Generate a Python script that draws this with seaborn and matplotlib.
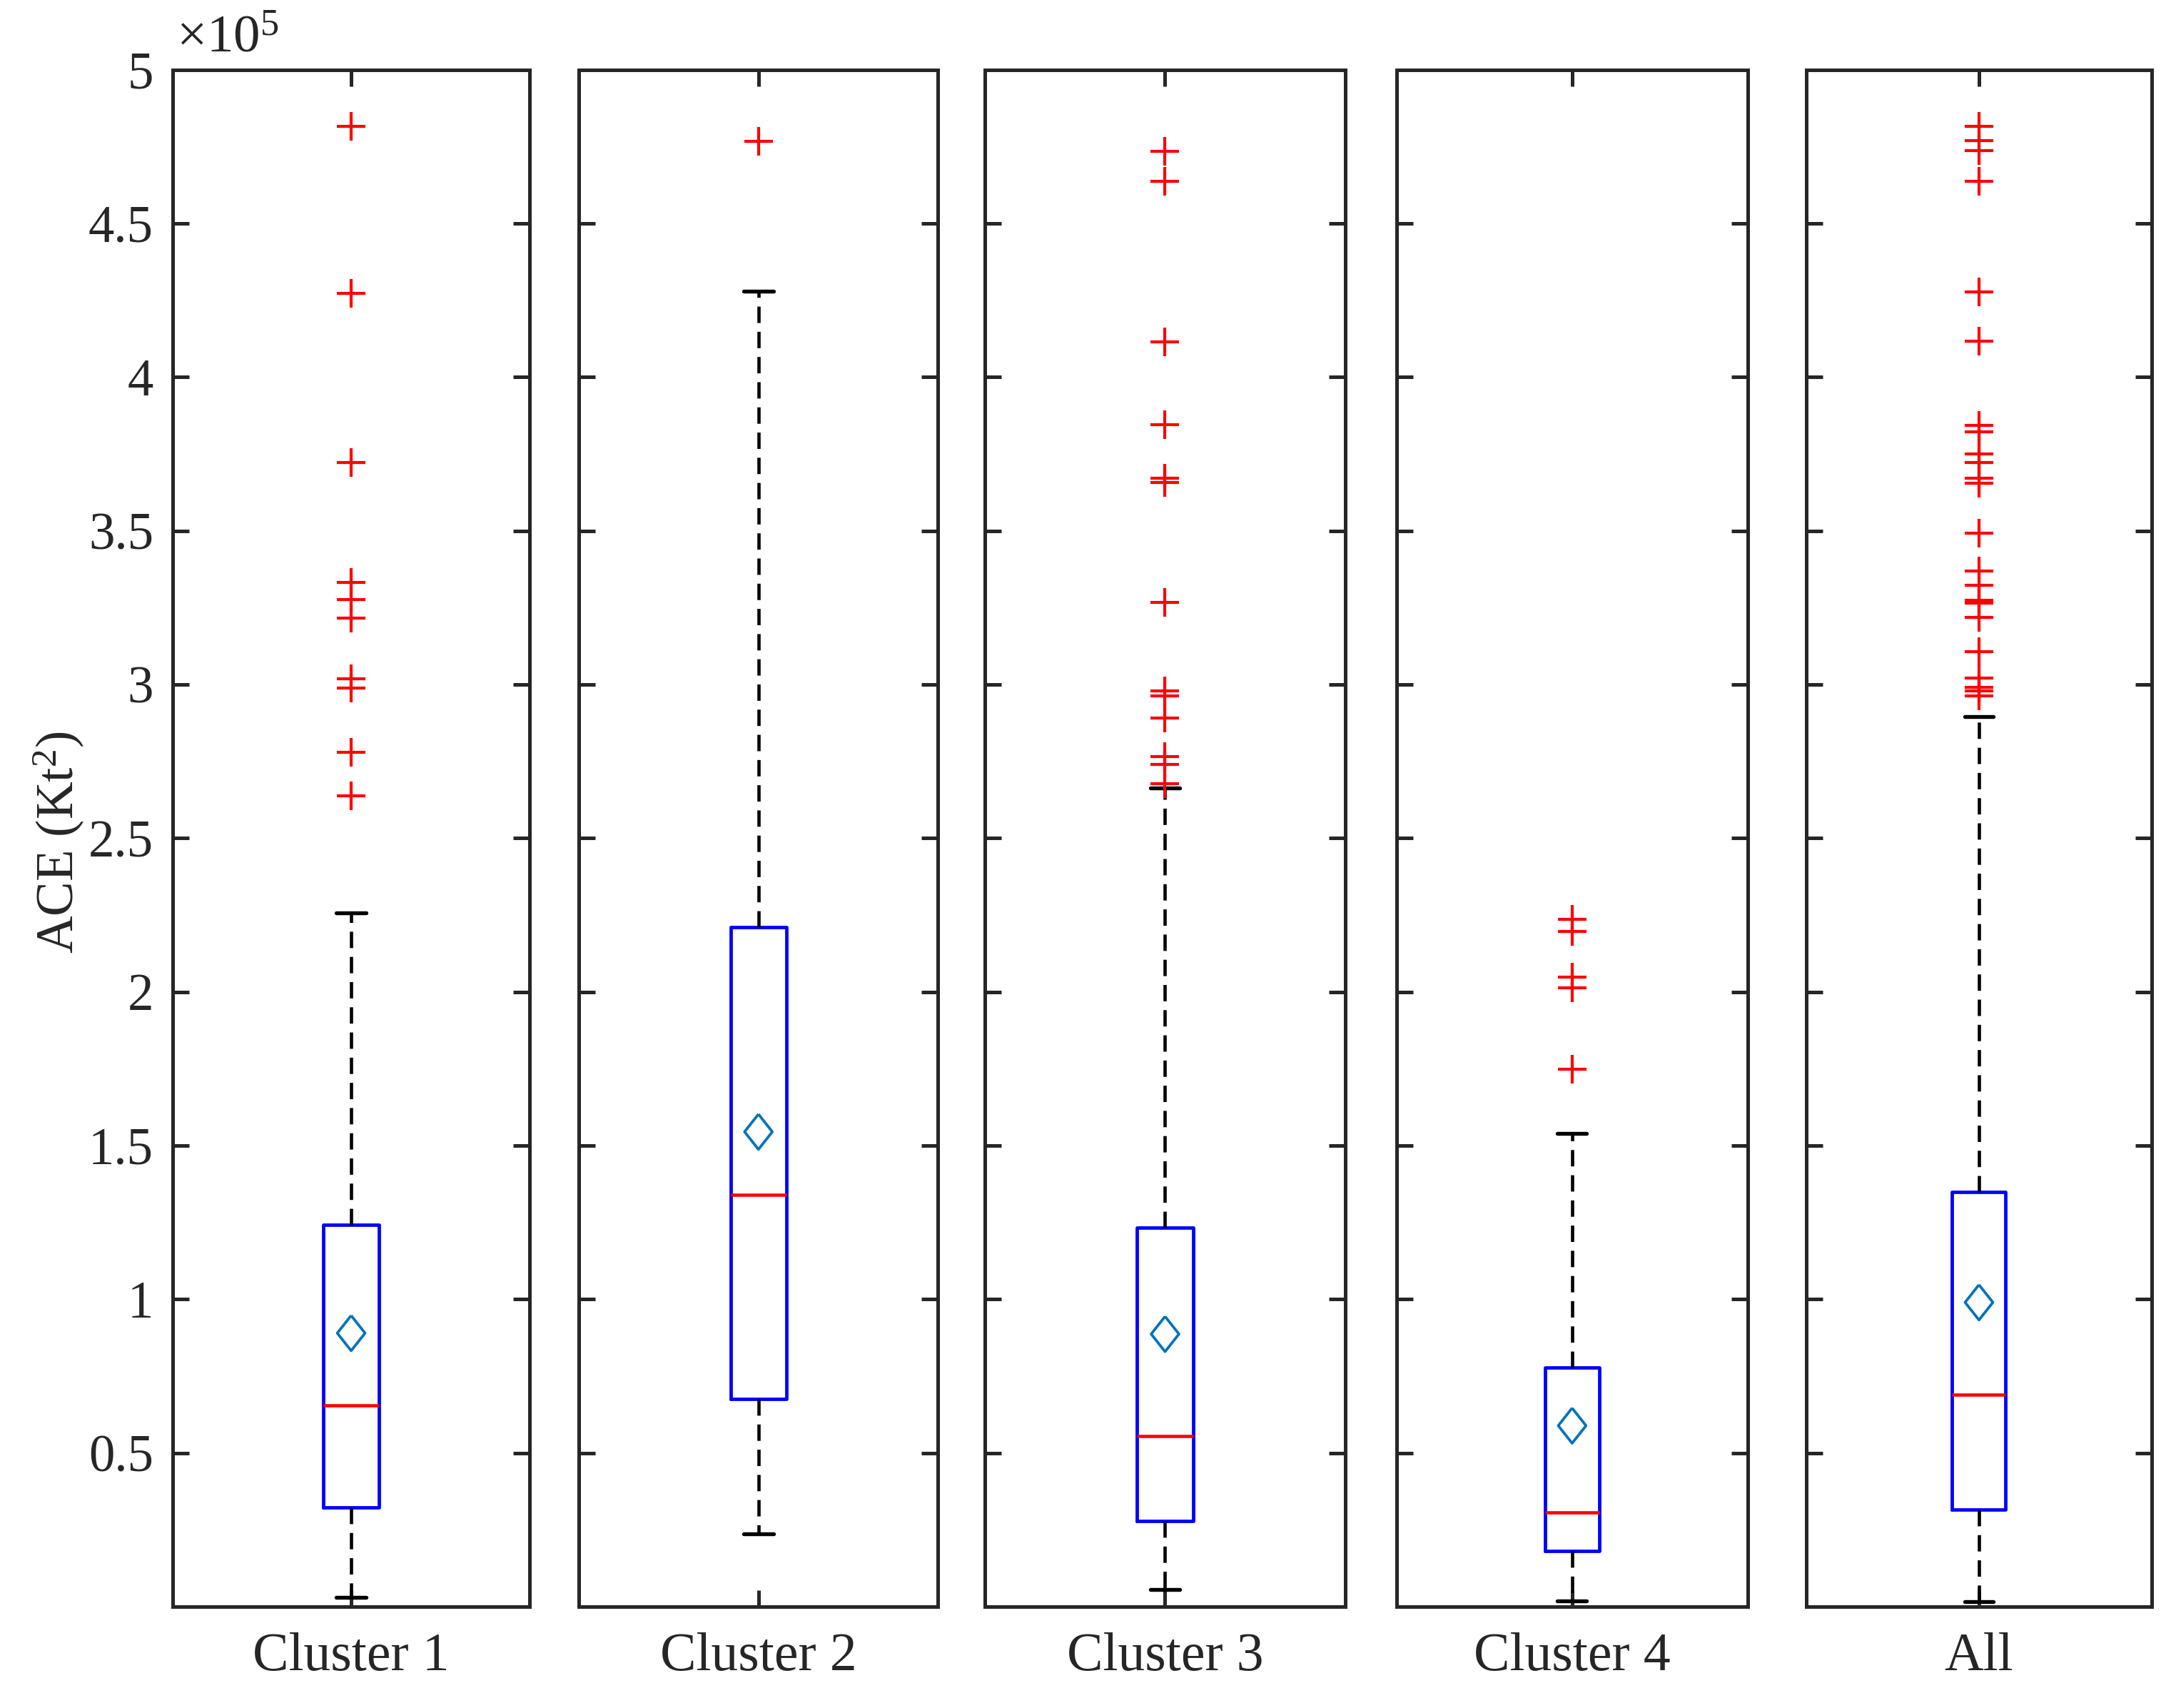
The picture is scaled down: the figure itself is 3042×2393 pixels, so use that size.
import numpy as np
import pandas as pd
import matplotlib
matplotlib.use("Agg")
import matplotlib.pyplot as plt
import seaborn as sns
from matplotlib.ticker import FuncFormatter

# ---------------- data (ACE, Kt^2) ----------------
categories = ["Cluster 1", "Cluster 2", "Cluster 3", "Cluster 4", "All"]
whisker_low = [0.030e5, 0.236e5, 0.056e5, 0.019e5, 0.017e5]
q1 = [0.322e5, 0.675e5, 0.279e5, 0.182e5, 0.315e5]
median = [0.655e5, 1.340e5, 0.554e5, 0.307e5, 0.690e5]
q3 = [1.243e5, 2.210e5, 1.234e5, 0.779e5, 1.350e5]
whisker_high = [2.256e5, 4.280e5, 2.664e5, 1.540e5, 2.896e5]
mean = [0.890e5, 1.545e5, 0.887e5, 0.589e5, 0.990e5]

outliers_c1 = [4.816e5, 4.272e5, 3.723e5, 3.333e5, 3.277e5, 3.215e5, 3.018e5, 2.988e5, 2.779e5, 2.638e5]
outliers_c2 = [4.766e5]
outliers_c3 = [4.735e5, 4.636e5, 4.115e5, 3.845e5, 3.671e5, 3.656e5, 3.267e5, 2.978e5, 2.964e5,
               2.890e5, 2.765e5, 2.740e5, 2.678e5]
outliers_c4 = [2.237e5, 2.197e5, 2.047e5, 2.014e5, 1.749e5]
outliers_all = [4.816e5, 4.769e5, 4.736e5, 4.636e5, 4.277e5, 4.117e5, 3.844e5, 3.822e5, 3.751e5,
                3.722e5, 3.671e5, 3.655e5, 3.492e5, 3.369e5, 3.323e5, 3.275e5, 3.265e5, 3.219e5,
                3.106e5, 3.022e5, 2.990e5, 2.980e5, 2.962e5]
outliers = [outliers_c1, outliers_c2, outliers_c3, outliers_c4, outliers_all]

y_ticks = [0.5e5, 1.0e5, 1.5e5, 2.0e5, 2.5e5, 3.0e5, 3.5e5, 4.0e5, 4.5e5, 5.0e5]

# ---------------- style ----------------
sns.set_style("ticks")
plt.rcParams["font.family"] = ["Liberation Serif", "DejaVu Serif"]
plt.rcParams["mathtext.fontset"] = "custom"
plt.rcParams["mathtext.rm"] = "Liberation Serif"
plt.rcParams["mathtext.it"] = "Liberation Serif:italic"
plt.rcParams["axes.unicode_minus"] = False

AX_COLOR = "#262626"
FS = 17.5
FS_X = 18.2

fig = plt.figure(figsize=(3042 / 300, 2393 / 300), dpi=300)
fig.patch.set_facecolor("white")

# panel horizontal extents (figure fractions)
lefts = [0.0796, 0.2666, 0.4537, 0.6433, 0.8320]
rights = [0.2439, 0.4321, 0.6196, 0.8050, 0.9911]
bottom, top = 0.0593, 0.9592

diamond = [(0, 1), (0.79, 0), (0, -1), (-0.79, 0), (0, 1)]

for i, cat in enumerate(categories):
    ax = fig.add_axes([lefts[i], bottom, rights[i] - lefts[i], top - bottom])
    stats = [dict(med=median[i], q1=q1[i], q3=q3[i], whislo=whisker_low[i],
                  whishi=whisker_high[i], fliers=[], mean=mean[i], label=cat)]
    ax.bxp(stats, positions=[1], widths=0.155, capwidths=0.083,
           showfliers=False, showmeans=False, patch_artist=False,
           boxprops=dict(color="#0000FF", linewidth=1.15),
           medianprops=dict(color="#FF0000", linewidth=1.1),
           whiskerprops=dict(color="black", linewidth=1.1, linestyle=(0, (5.0, 2.7))),
           capprops=dict(color="black", linewidth=1.3))

    df_out = pd.DataFrame({"x": [1.0] * len(outliers[i]), "y": outliers[i]})
    sns.scatterplot(data=df_out, x="x", y="y", marker="+", s=88, color="#FF0000",
                    linewidth=1.0, ax=ax, legend=False, zorder=4)

    df_mean = pd.DataFrame({"x": [1.0], "y": [mean[i]]})
    sns.scatterplot(data=df_mean, x="x", y="y", marker=diamond, s=140,
                    color="#0072BD", facecolor="none", edgecolor="#0072BD",
                    linewidth=0.9, ax=ax, legend=False, zorder=5)

    ax.set_xlim(0.5, 1.5)
    ax.set_ylim(0, 5e5)
    ax.set_xticks([1])
    ax.set_xticklabels([cat], fontsize=FS_X)
    ax.set_xlabel("")
    ax.set_ylabel("")
    ax.set_yticks(y_ticks)
    for sp in ax.spines.values():
        sp.set_visible(True)
        sp.set_color(AX_COLOR)
        sp.set_linewidth(1.2)
    ax.tick_params(axis="both", which="both", direction="in", length=5.5, width=1.2,
                   color=AX_COLOR, labelcolor=AX_COLOR)
    ax.tick_params(axis="x", top=True, bottom=True, pad=8.5)
    ax.tick_params(axis="y", left=True, right=True, pad=6.5, labelsize=FS)
    if i == 0:
        ax.yaxis.set_major_formatter(FuncFormatter(lambda v, p: f"{v / 1e5:g}"))
        ax.text(0.01, 1.004, "×10$^{5}$", transform=ax.transAxes, ha="left", va="bottom",
                fontsize=FS + 0.5, color=AX_COLOR)
    else:
        ax.set_yticklabels([])
    ax.set_facecolor("white")

fig.text(0.027, 0.507, "ACE (Kt$^{2}$)", rotation=90, ha="center", va="center",
         fontsize=FS, color=AX_COLOR)

fig.savefig("out.png", dpi=300, facecolor="white")
